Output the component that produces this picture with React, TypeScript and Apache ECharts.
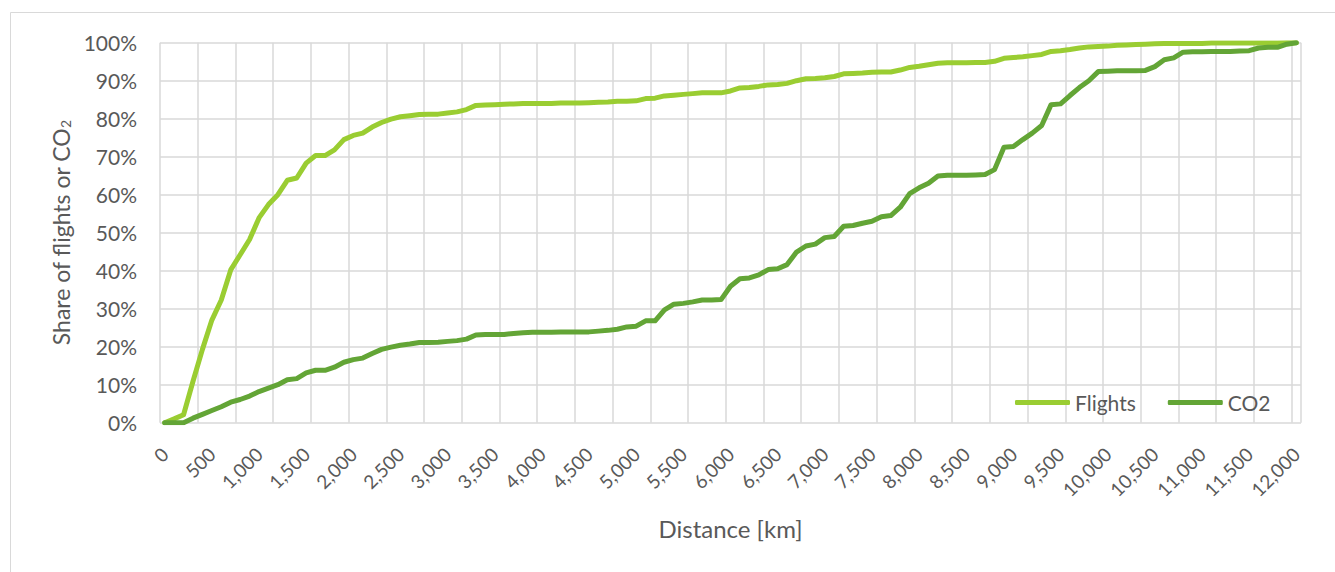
import React, { useEffect, useRef } from "react";
import * as echarts from "echarts";

// Distance categories, one every 100 km (0 … 12,000 km)
const distanceKm: string[] = Array.from({ length: 121 }, (_, i) => String(i * 100));

// Cumulative share of flights (%), one value per 100 km category
const flightsShare: number[] = [
  0, 1.0, 2.1, 10.9, 19.3, 27.0, 32.3, 40.2, 44.2, 48.2,
  53.9, 57.4, 60.0, 63.8, 64.4, 68.3, 70.3, 70.3, 71.8, 74.5,
  75.6, 76.2, 77.8, 79.0, 79.9, 80.5, 80.8, 81.1, 81.2, 81.2,
  81.5, 81.8, 82.4, 83.5, 83.6, 83.7, 83.8, 83.9, 84.0, 84.0,
  84.0, 84.0, 84.1, 84.1, 84.1, 84.2, 84.3, 84.4, 84.6, 84.6,
  84.7, 85.3, 85.4, 86.0, 86.2, 86.4, 86.6, 86.8, 86.8, 86.8,
  87.3, 88.1, 88.2, 88.5, 88.9, 89.0, 89.3, 90.0, 90.5, 90.6,
  90.8, 91.1, 91.8, 91.9, 92.0, 92.2, 92.3, 92.3, 92.8, 93.5,
  93.8, 94.2, 94.6, 94.7, 94.7, 94.7, 94.8, 94.8, 95.1, 95.9,
  96.1, 96.3, 96.6, 96.9, 97.7, 97.9, 98.2, 98.6, 98.9, 99.0,
  99.1, 99.3, 99.4, 99.5, 99.6, 99.7, 99.8, 99.8, 99.8, 99.8,
  99.8, 99.9, 99.9, 99.9, 99.9, 99.9, 99.9, 99.9, 99.9, 100,
  100,
];

// Cumulative share of CO2 (%), one value per 100 km category
const co2Share: number[] = [
  0, 0, 0, 1.2, 2.2, 3.2, 4.2, 5.4, 6.1, 7.0,
  8.2, 9.1, 10.0, 11.3, 11.6, 13.1, 13.8, 13.8, 14.6, 15.9,
  16.6, 17.0, 18.2, 19.3, 19.9, 20.4, 20.7, 21.1, 21.1, 21.2,
  21.4, 21.6, 22.0, 23.1, 23.2, 23.2, 23.2, 23.5, 23.7, 23.8,
  23.8, 23.8, 23.9, 23.9, 23.9, 23.9, 24.1, 24.3, 24.6, 25.2,
  25.4, 26.8, 26.8, 29.7, 31.2, 31.4, 31.8, 32.3, 32.3, 32.4,
  35.9, 37.9, 38.1, 38.9, 40.3, 40.5, 41.6, 44.9, 46.5, 47.0,
  48.7, 49.0, 51.7, 51.9, 52.5, 53.0, 54.2, 54.5, 56.7, 60.3,
  61.8, 63.0, 64.9, 65.1, 65.1, 65.1, 65.2, 65.3, 66.6, 72.5,
  72.7, 74.5, 76.2, 78.2, 83.7, 83.9, 86.1, 88.2, 90.0, 92.4,
  92.5, 92.6, 92.6, 92.6, 92.7, 93.7, 95.5, 96.0, 97.5, 97.6,
  97.6, 97.7, 97.7, 97.7, 97.8, 97.9, 98.6, 98.8, 98.8, 99.6,
  100,
];

const seriesNames = ["Flights", "CO2"];
const seriesColors = ["#9ACD32", "#63A536"];

const FONT = "Lato, 'Open Sans', sans-serif";
const TEXT_COLOR = "#595959";
const GRID_COLOR = "#d9d9d9";

export default function App() {
  const ref = useRef<HTMLDivElement>(null);

  useEffect(() => {
    if (!ref.current) return;
    const chart = echarts.init(ref.current, undefined, { renderer: "svg" });
    chart.setOption({
      animation: false,
      backgroundColor: "#ffffff",
      textStyle: { fontFamily: FONT },
      graphic: [
        {
          type: "rect",
          shape: { x: 10.5, y: 12.5, width: 1400, height: 1000 },
          style: { fill: "none", stroke: GRID_COLOR, lineWidth: 1 },
          silent: true,
          z: -10,
        },
      ],
      grid: { left: 160, right: 34, top: 42.7, bottom: 149.3, containLabel: false },
      legend: {
        data: seriesNames,
        left: 1015,
        top: 392,
        padding: 0,
        icon: "roundRect",
        itemWidth: 55,
        itemHeight: 5,
        itemGap: 32,
        textStyle: { fontSize: 21, color: TEXT_COLOR, fontFamily: FONT },
      },
      xAxis: {
        type: "category",
        data: distanceKm,
        boundaryGap: true,
        name: "Distance [km]",
        nameLocation: "middle",
        nameGap: 94,
        nameTextStyle: { fontSize: 24, color: TEXT_COLOR, fontFamily: FONT },
        axisLine: { show: false },
        axisTick: { show: false },
        axisLabel: {
          interval: 4,
          rotate: 45,
          margin: 28,
          fontSize: 19,
          color: TEXT_COLOR,
          fontFamily: FONT,
          formatter: (v: string) => Number(v).toLocaleString("en-US"),
        },
        splitLine: { show: true, interval: 3, lineStyle: { color: GRID_COLOR, width: 1.5 } },
      },
      yAxis: {
        type: "value",
        min: 0,
        max: 100,
        interval: 10,
        name: "Share of flights or CO{sub|2}",
        nameLocation: "middle",
        nameGap: 84,
        nameTextStyle: {
          fontSize: 23,
          color: TEXT_COLOR,
          fontFamily: FONT,
          rich: {
            sub: { fontSize: 14, color: TEXT_COLOR, fontFamily: FONT, verticalAlign: "bottom", padding: [10, 0, 0, 0] },
          },
        },
        axisLine: { show: false },
        axisTick: { show: false },
        axisLabel: { formatter: "{value}%", margin: 23, fontSize: 21, color: TEXT_COLOR, fontFamily: FONT },
        splitLine: { show: true, lineStyle: { color: GRID_COLOR, width: 1.5 } },
      },
      series: [
        {
          name: seriesNames[0],
          type: "line",
          data: flightsShare,
          symbol: "none",
          color: seriesColors[0],
          lineStyle: { width: 5, color: seriesColors[0], cap: "round", join: "round" },
        },
        {
          name: seriesNames[1],
          type: "line",
          data: co2Share,
          symbol: "none",
          color: seriesColors[1],
          lineStyle: { width: 5, color: seriesColors[1], cap: "round", join: "round" },
        },
      ],
    });
    return () => chart.dispose();
  }, []);

  return (
    <div
      ref={ref}
      style={{ position: "fixed", left: 0, top: 0, width: 1335, height: 572, background: "#fff" }}
    />
  );
}
